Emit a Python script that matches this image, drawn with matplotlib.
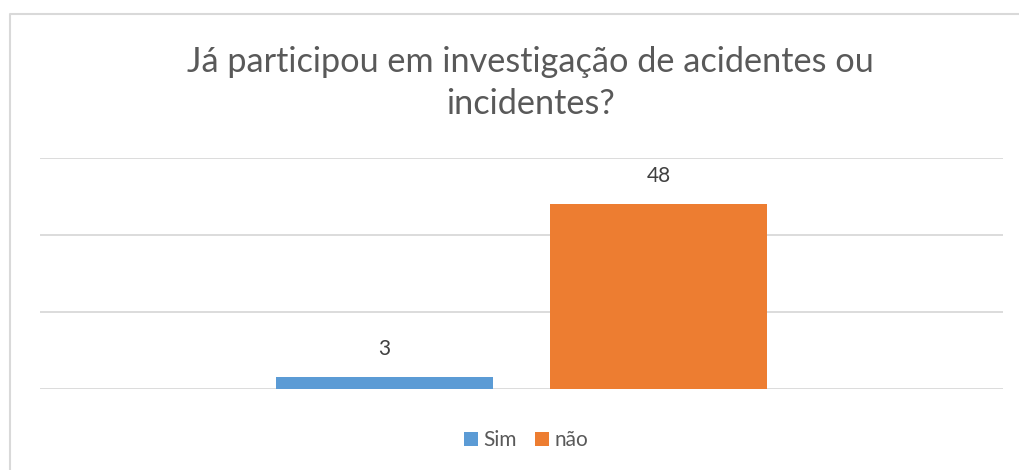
import matplotlib
matplotlib.use("Agg")
import matplotlib.pyplot as plt
from matplotlib.lines import Line2D

categories = ["Sim", "não"]
values = [3, 48]
colors = ["#5B9BD5", "#ED7D31"]
yticks = [0, 20, 40, 60]
title = "Já participou em investigação de acidentes ou\nincidentes?"

plt.rcParams['font.family'] = ['Lato', 'DejaVu Sans']

fig = plt.figure(figsize=(10.2, 4.7), dpi=100)
W, H = 1020, 470
ax = fig.add_axes([40 / W, 81 / H, 963 / W, 231 / H])

offsets = [-0.1423, 0.1423]
width = 0.2253
bars = []
for cat, v, c, off in zip(categories, values, colors, offsets):
    b = ax.bar(off, v, width=width, color=c, label=cat, zorder=3)
    bars.append(b)
    ax.annotate(str(v), (off, v), xytext=(0, 13), textcoords="offset points",
                ha="center", va="bottom", fontsize=15, color="#404040")

ax.set_xlim(-0.5, 0.5)
ax.set_ylim(0, 60)
ax.set_yticks(yticks)
ax.yaxis.grid(True, color="#D9D9D9", linewidth=1.3, zorder=0)
ax.tick_params(left=False, bottom=False, labelleft=False, labelbottom=False)
ax.set_xticks([])
for s in ax.spines.values():
    s.set_visible(False)

fig.text(530 / W, 1 - 83 / H, title, ha="center", va="center", fontsize=24.7,
         color="#595959", linespacing=1.38)

fig.legend(handles=[b for b in bars], labels=categories, loc="center",
           bbox_to_anchor=(526 / W, 1 - 440 / H), ncol=2, frameon=False,
           fontsize=15, handlelength=0.67, handleheight=0.67, handletextpad=0.25,
           columnspacing=0.9, labelcolor="#595959")

border = Line2D([10.5 / W, 10.5 / W, 1.05], [-0.05, 1 - 14 / H, 1 - 14 / H],
                transform=fig.transFigure, color="#D9D9D9", linewidth=1.5,
                clip_on=False)
fig.add_artist(border)

fig.savefig("out.png", dpi=100, facecolor="white")
